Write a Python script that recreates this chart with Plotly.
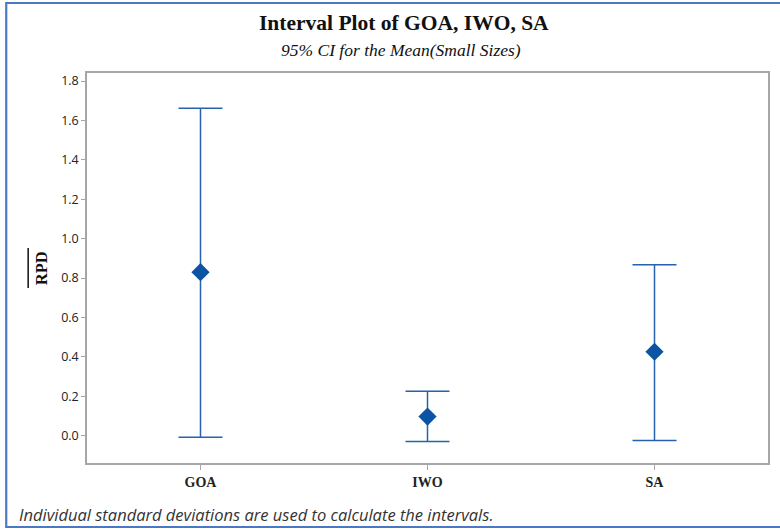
import plotly.graph_objects as go

categories = ["GOA", "IWO", "SA"]
means = [0.830, 0.097, 0.426]
lower = [-0.008, -0.030, -0.024]
upper = [1.662, 0.226, 0.867]
y_ticks = [0.0, 0.2, 0.4, 0.6, 0.8, 1.0, 1.2, 1.4, 1.6, 1.8]

W, H = 780, 529
L, R, T, B = 87, 10, 73, 66
pw, ph = W - L - R, H - T - B

def px(x):
    return (x - L) / pw

def py(y):
    return (H - B - y) / ph

err_plus = [u - m for u, m in zip(upper, means)]
err_minus = [m - l for m, l in zip(means, lower)]

fig = go.Figure()
fig.add_trace(go.Scatter(
    x=list(range(len(categories))), y=means, mode="markers",
    marker=dict(symbol="diamond", size=14, color="#0b53a3"),
    error_y=dict(type="data", symmetric=False, array=err_plus, arrayminus=err_minus,
                 color="#2563ae", thickness=1.5, width=22),
    showlegend=False, hoverinfo="skip",
))

axis_col = "#a6a6a6"
fig.update_layout(
    width=W, height=H,
    margin=dict(l=L, r=R, t=T, b=B),
    paper_bgcolor="white", plot_bgcolor="white",
    xaxis=dict(range=[-0.5, 2.5], tickmode="array", tickvals=list(range(len(categories))),
               ticktext=[f"<b>{c}</b>" for c in categories],
               showgrid=False, zeroline=False, showline=True, linecolor=axis_col, linewidth=1.5,
               mirror=True, ticks="outside", ticklen=5, tickcolor=axis_col,
               tickfont=dict(family="Liberation Serif", size=14, color="#222")),
    yaxis=dict(range=[-0.1386, 1.8406], tickmode="array", tickvals=y_ticks,
               ticktext=[f"{v:.1f}" for v in y_ticks],
               showgrid=False, zeroline=False, showline=True, linecolor=axis_col, linewidth=1.5,
               mirror=True, ticks="outside", ticklen=4, tickcolor=axis_col,
               tickfont=dict(family="Open Sans", size=12.5, color="#222")),
)

annotations = [
    dict(text="<b>Interval Plot of GOA, IWO, SA</b>", x=px(405), y=py(23),
         font=dict(family="Liberation Serif", size=21.5, color="#111")),
    dict(text="<i>95% CI for the Mean(Small Sizes)</i>", x=px(402), y=py(50),
         font=dict(family="Liberation Serif", size=17.5, color="#111")),
    dict(text="<b>RPD</b>", x=px(41), y=py(268), textangle=-90,
         font=dict(family="Liberation Serif", size=16.5, color="#111")),
    dict(text="<i>Individual standard deviations are used to calculate the intervals.</i>",
         x=px(17), y=py(514), xanchor="left",
         font=dict(family="Open Sans", size=16.5, color="#333")),
]
for a in annotations:
    a.update(xref="paper", yref="paper", showarrow=False)
    a.setdefault("xanchor", "center")
    a.setdefault("yanchor", "middle")
    fig.add_annotation(**a)

# overline of RPD (mean bar)
fig.add_shape(type="line", xref="paper", yref="paper",
              x0=px(28), x1=px(28), y0=py(248), y1=py(288),
              line=dict(color="#111", width=1.5))
# outer blue frame
fig.add_shape(type="rect", xref="paper", yref="paper",
              x0=px(6), x1=px(800), y0=py(527), y1=py(3),
              line=dict(color="#4a78c6", width=2.2), layer="above")

fig.write_html("out.html", config={"displayModeBar": False},
               post_script="document.body.style.margin='0';document.body.style.overflow='hidden';")
